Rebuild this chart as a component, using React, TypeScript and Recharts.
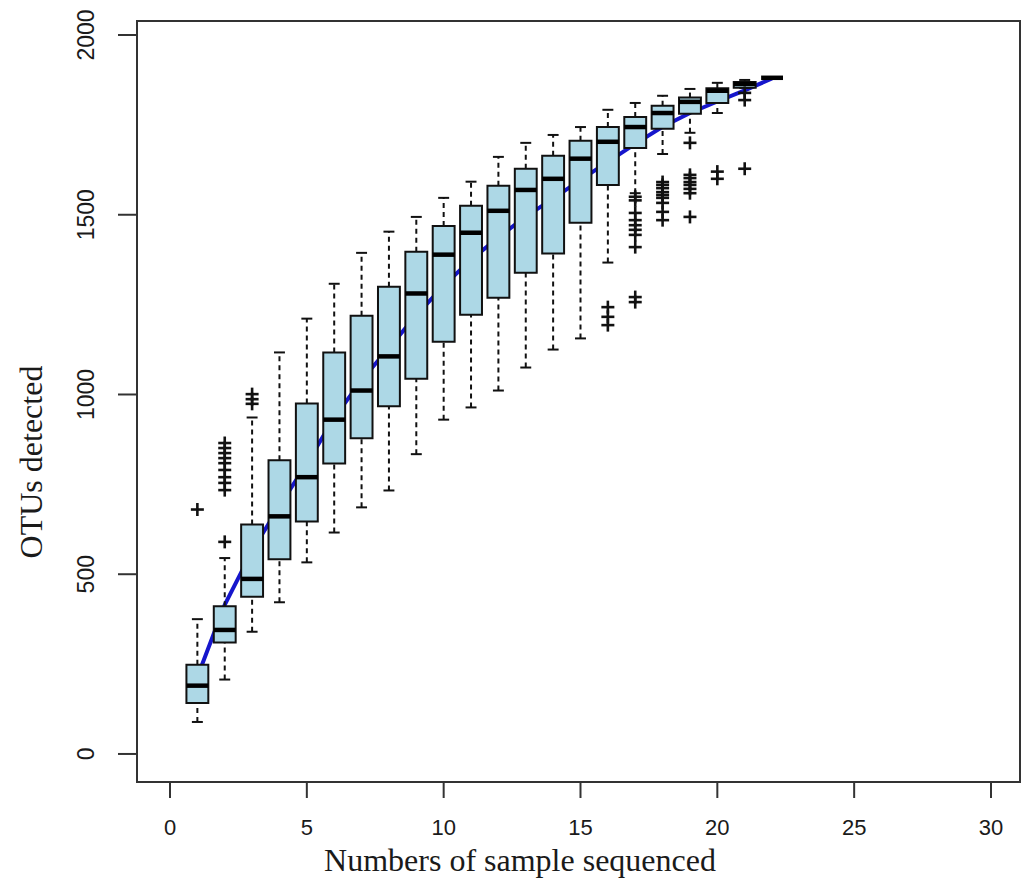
import {
  ComposedChart,
  XAxis,
  YAxis,
  Line,
  Scatter,
  ReferenceArea,
  ReferenceLine,
} from 'recharts';

// number of samples on the x axis, 1..22
const samples = [1, 2, 3, 4, 5, 6, 7, 8, 9, 10, 11, 12, 13, 14, 15, 16, 17, 18, 19, 20, 21, 22];

// five-number summaries, one entry per sample count
const whiskerLow = [89, 207, 340, 422, 533, 616, 686, 733, 834, 930, 964, 1011, 1075, 1125, 1156, 1367, 1560, 1669, 1728, 1783, 1853, 1881];
const quart1 = [142, 310, 437, 542, 647, 808, 878, 967, 1044, 1147, 1222, 1269, 1339, 1392, 1478, 1583, 1686, 1739, 1781, 1811, 1853, 1881];
const medians = [190, 345, 487, 661, 770, 930, 1011, 1106, 1281, 1389, 1450, 1511, 1569, 1600, 1656, 1703, 1744, 1783, 1814, 1845, 1864, 1881];
const quart3 = [248, 411, 638, 817, 975, 1117, 1219, 1300, 1397, 1469, 1525, 1581, 1628, 1664, 1706, 1744, 1772, 1803, 1826, 1852, 1869, 1881];
const whiskerHigh = [375, 545, 936, 1117, 1211, 1308, 1394, 1453, 1494, 1547, 1592, 1661, 1700, 1722, 1744, 1792, 1811, 1831, 1850, 1867, 1875, 1881];

// mean curve (blue)
const means = [214, 415, 565, 690, 808, 935, 1040, 1130, 1220, 1303, 1375, 1437, 1495, 1545, 1597, 1647, 1697, 1745, 1783, 1815, 1846, 1879];

// outliers, as [sample, value]
const outlierPoints: [number, number][] = [
  [1, 680],
  [2, 590], [2, 734], [2, 754], [2, 770], [2, 790], [2, 809], [2, 823], [2, 837], [2, 851], [2, 865],
  [3, 974], [3, 987], [3, 1001],
  [16, 1193], [16, 1216], [16, 1243],
  [17, 1257], [17, 1271], [17, 1410], [17, 1444], [17, 1458], [17, 1471], [17, 1485], [17, 1505], [17, 1540], [17, 1550],
  [18, 1485], [18, 1508], [18, 1533], [18, 1547], [18, 1555], [18, 1563], [18, 1574], [18, 1583], [18, 1591],
  [19, 1494], [19, 1560], [19, 1572], [19, 1583], [19, 1591], [19, 1602], [19, 1611], [19, 1700],
  [20, 1600], [20, 1620],
  [21, 1628], [21, 1819], [21, 1839],
];

const xTicks = [0, 5, 10, 15, 20, 25, 30];
const yTicks = [0, 500, 1000, 1500, 2000];

const X_DOMAIN: [number, number] = [-1.206, 31.06];
const Y_DOMAIN: [number, number] = [-78, 2039];

const meanData = samples.map((x, i) => ({ x, y: means[i] }));
const outlierData = outlierPoints.map(([x, y]) => ({ x, y }));

const BOX_HALF = 0.4;
const CAP_HALF = 0.2;

const XTick = ({ x, y, payload }: any) => (
  <text x={x} y={y + 37} textAnchor="middle" fontFamily="'Liberation Sans', Arial, sans-serif" fontSize={22} fill="#1a1a1a">
    {payload.value}
  </text>
);

const YTick = ({ x, y, payload }: any) => (
  <text
    x={x - 24}
    y={y}
    textAnchor="middle"
    transform={`rotate(-90 ${x - 24} ${y})`}
    fontFamily="'Liberation Sans', Arial, sans-serif"
    fontSize={23}
    fill="#1a1a1a"
  >
    {payload.value}
  </text>
);

const Plus = ({ cx, cy }: any) => (
  <g stroke="#111" strokeWidth={2.6}>
    <line x1={cx - 6.5} y1={cy} x2={cx + 6.5} y2={cy} />
    <line x1={cx} y1={cy - 6.5} x2={cx} y2={cy + 6.5} />
  </g>
);

export default function App() {
  return (
    <div style={{ position: 'absolute', left: 0, top: 0, width: 1022, height: 890, background: '#fff' }}>
      <ComposedChart width={1022} height={890} margin={{ top: 21, right: 2, bottom: 0, left: 0 }}>
        <XAxis
          type="number"
          dataKey="x"
          domain={X_DOMAIN}
          ticks={xTicks}
          allowDataOverflow
          height={108}
          tickSize={16}
          tickMargin={0}
          tick={<XTick />}
          axisLine={{ stroke: '#333', strokeWidth: 2 }}
          tickLine={{ stroke: '#333', strokeWidth: 2 }}
        />
        <YAxis
          type="number"
          dataKey="y"
          domain={Y_DOMAIN}
          ticks={yTicks}
          allowDataOverflow
          width={137}
          tickSize={19}
          tickMargin={0}
          tick={<YTick />}
          axisLine={{ stroke: '#333', strokeWidth: 2 }}
          tickLine={{ stroke: '#333', strokeWidth: 2 }}
        />

        {/* frame */}
        <ReferenceArea
          x1={X_DOMAIN[0]}
          x2={X_DOMAIN[1]}
          y1={Y_DOMAIN[0]}
          y2={Y_DOMAIN[1]}
          fill="none"
          stroke="#333"
          strokeWidth={2}
          ifOverflow="visible"
        />

        {/* mean curve, behind the boxes */}
        <Line
          data={meanData}
          dataKey="y"
          stroke="#1616cc"
          strokeWidth={4}
          dot={false}
          isAnimationActive={false}
          zIndex={350}
        />

        {/* whiskers */}
        {samples.map((s, i) => (
          <ReferenceLine
            key={`wl${s}`}
            segment={[{ x: s, y: whiskerLow[i] }, { x: s, y: quart1[i] }]}
            stroke="#111"
            strokeWidth={2}
            strokeDasharray="5 4"
            zIndex={440}
          />
        ))}
        {samples.map((s, i) => (
          <ReferenceLine
            key={`wh${s}`}
            segment={[{ x: s, y: quart3[i] }, { x: s, y: whiskerHigh[i] }]}
            stroke="#111"
            strokeWidth={2}
            strokeDasharray="5 4"
            zIndex={440}
          />
        ))}
        {samples.map((s, i) => (
          <ReferenceLine
            key={`cl${s}`}
            segment={[{ x: s - CAP_HALF, y: whiskerLow[i] }, { x: s + CAP_HALF, y: whiskerLow[i] }]}
            stroke="#111"
            strokeWidth={2}
            zIndex={440}
          />
        ))}
        {samples.map((s, i) => (
          <ReferenceLine
            key={`ch${s}`}
            segment={[{ x: s - CAP_HALF, y: whiskerHigh[i] }, { x: s + CAP_HALF, y: whiskerHigh[i] }]}
            stroke="#111"
            strokeWidth={2}
            zIndex={440}
          />
        ))}

        {/* boxes */}
        {samples.map((s, i) => (
          <ReferenceArea
            key={`b${s}`}
            x1={s - BOX_HALF}
            x2={s + BOX_HALF}
            y1={quart1[i]}
            y2={quart3[i]}
            fill="#add8e6"
            fillOpacity={1}
            stroke="#111"
            strokeWidth={2}
            zIndex={450}
          />
        ))}

        {/* medians */}
        {samples.map((s, i) => (
          <ReferenceLine
            key={`m${s}`}
            segment={[{ x: s - BOX_HALF, y: medians[i] }, { x: s + BOX_HALF, y: medians[i] }]}
            stroke="#000"
            strokeWidth={4.5}
            zIndex={460}
          />
        ))}

        <Scatter data={outlierData} shape={<Plus />} isAnimationActive={false} zIndex={600} />
      </ComposedChart>

      <svg width={1022} height={890} style={{ position: 'absolute', left: 0, top: 0, pointerEvents: 'none' }}>
        <text x={520} y={871} textAnchor="middle" fontFamily="'Liberation Serif', 'Times New Roman', serif" fontSize={32} fill="#1a1a1a">
          Numbers of sample sequenced
        </text>
        <text
          x={42}
          y={462}
          textAnchor="middle"
          transform="rotate(-90 42 462)"
          fontFamily="'Liberation Serif', 'Times New Roman', serif"
          fontSize={32}
          fill="#1a1a1a"
        >
          OTUs detected
        </text>
      </svg>
    </div>
  );
}
